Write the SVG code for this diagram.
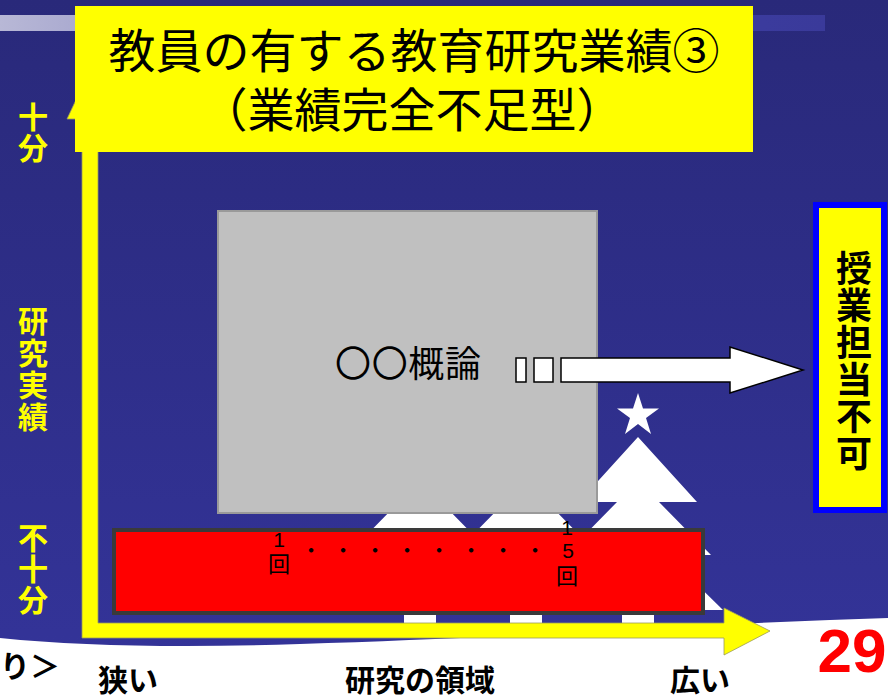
<svg xmlns="http://www.w3.org/2000/svg" width="888" height="697" viewBox="0 0 888 697">
  <defs>
    <linearGradient id="bg" x1="0" y1="0" x2="0" y2="1">
      <stop offset="0" stop-color="#29297a"/>
      <stop offset="1" stop-color="#34349a"/>
    </linearGradient>
    <linearGradient id="band" x1="0" y1="0" x2="1" y2="0">
      <stop offset="0" stop-color="#b8b8d6"/>
      <stop offset="0.85" stop-color="#3c3ca0"/>
      <stop offset="1" stop-color="#3a3a9a"/>
    </linearGradient>
    <polygon id="tree" points="0,0 59,65 21,65 73,118 29,118 85,173 16,173 16,187 -16,187 -16,173 -85,173 -29,118 -73,118 -21,65 -59,65"/>
    <style>
      text { font-family: "Liberation Sans", "Noto Sans CJK JP", sans-serif; }
      .cjk { font-family: "Noto Sans CJK JP", sans-serif; }
      .title { font-size: 47px; fill: #000; text-anchor: middle; }
      .axislbl { font-size: 30px; fill: #ffff00; font-weight: bold; text-anchor: middle; }
      .vert { font-size: 36px; fill: #000; font-weight: bold; text-anchor: middle; }
      .small { font-size: 21px; fill: #000; text-anchor: middle; }
      .kai { font-size: 22px; }
      .bottom { font-size: 30px; fill: #000; font-weight: bold; }
      .tree { fill: #ffffff; }
    </style>
  </defs>

  <!-- slide background -->
  <rect x="0" y="0" width="888" height="697" fill="url(#bg)"/>
  <rect x="0" y="15" width="825" height="16" fill="url(#band)"/>
  <path d="M0,638 Q120,650 300,644 T620,630 T888,618 L888,697 L0,697 Z" fill="#ffffff"/>

  <!-- background trees -->
  <g id="trees" class="tree">
    <use href="#tree" x="420" y="437"/>
    <use href="#tree" x="526" y="437"/>
    <use href="#tree" x="638" y="437"/>
    <polygon points="638,393 643,408.5 659,408.5 646,418 651,434 638,424 625,434 630,418 617,408.5 633,408.5"/>
  </g>

  <!-- axes -->
  <g id="axes">
    <path d="M90,70 L113,119 L98,119 L98,623 L724,623 L724,608 L770,631 L724,655 L724,638 L82,638 L82,119 L67,119 Z" fill="#ffff00" stroke="#9a9a60" stroke-width="0.8"/>
  </g>

  <!-- title -->
  <g id="title">
    <rect x="75" y="6" width="678" height="146" fill="#ffff00"/>
    <text class="title" x="414" y="68">教員の有する教育研究業績③</text>
    <text class="title" x="412" y="127">（業績完全不足型）</text>
  </g>

  <!-- vertical axis labels -->
  <g id="y-labels">
    <text class="axislbl" x="33" y="128">十</text>
    <text class="axislbl" x="33" y="159">分</text>
    <text class="axislbl" x="33" y="332">研</text>
    <text class="axislbl" x="33" y="364">究</text>
    <text class="axislbl" x="33" y="396">実</text>
    <text class="axislbl" x="33" y="428">績</text>
    <text class="axislbl" x="33" y="549">不</text>
    <text class="axislbl" x="33" y="580">十</text>
    <text class="axislbl" x="33" y="611">分</text>
  </g>

  <!-- course block -->
  <g id="course">
    <rect x="218" y="211" width="379" height="302" fill="#c0c0c0" stroke="#9a9a9a" stroke-width="2"/>
    <text class="cjk" x="335" y="377" font-size="36" fill="#000" textLength="146">〇〇概論</text>
  </g>

  <!-- connector to the verdict -->
  <g id="connectors" fill="#ffffff" stroke="#000" stroke-width="1.5">
    <rect x="516" y="358" width="10" height="24"/>
    <rect x="534" y="358" width="19" height="24"/>
    <path d="M561,358 L730,358 L730,347 L803,370 L730,393 L730,382 L561,382 Z"/>
  </g>

  <!-- verdict box -->
  <g id="verdict">
    <rect x="816" y="205" width="68" height="305" fill="#ffff00" stroke="#0000ff" stroke-width="6"/>
    <text class="vert" x="854" y="282">授</text>
    <text class="vert" x="854" y="319">業</text>
    <text class="vert" x="854" y="356">担</text>
    <text class="vert" x="854" y="393">当</text>
    <text class="vert" x="854" y="430">不</text>
    <text class="vert" x="854" y="467">可</text>
  </g>

  <!-- record bar -->
  <g id="record">
    <rect x="114" y="530" width="589" height="83" fill="#ff0000" stroke="#3a3a3a" stroke-width="4"/>
    <text class="small" x="279" y="547">1</text>
    <text class="small kai" x="279" y="572">回</text>
    <text class="small" x="311 343 375 407 439 471 503 535" y="558" font-size="22">・・・・・・・・</text>
    <text class="small" x="567" y="535">1</text>
    <text class="small" x="568" y="558">5</text>
    <text class="small kai" x="567" y="584">回</text>
  </g>

  <!-- horizontal axis labels -->
  <g id="x-labels">
    <text class="bottom" x="0" y="677" font-size="27">り＞</text>
    <text class="bottom" x="98" y="691">狭い</text>
    <text class="bottom" x="345" y="691" font-size="31">研究の領域</text>
    <text class="bottom" x="670" y="691">広い</text>
  </g>

  <!-- page number -->
  <text x="852" y="672" font-size="62" font-weight="bold" fill="#ff0000" text-anchor="middle">29</text>
</svg>
